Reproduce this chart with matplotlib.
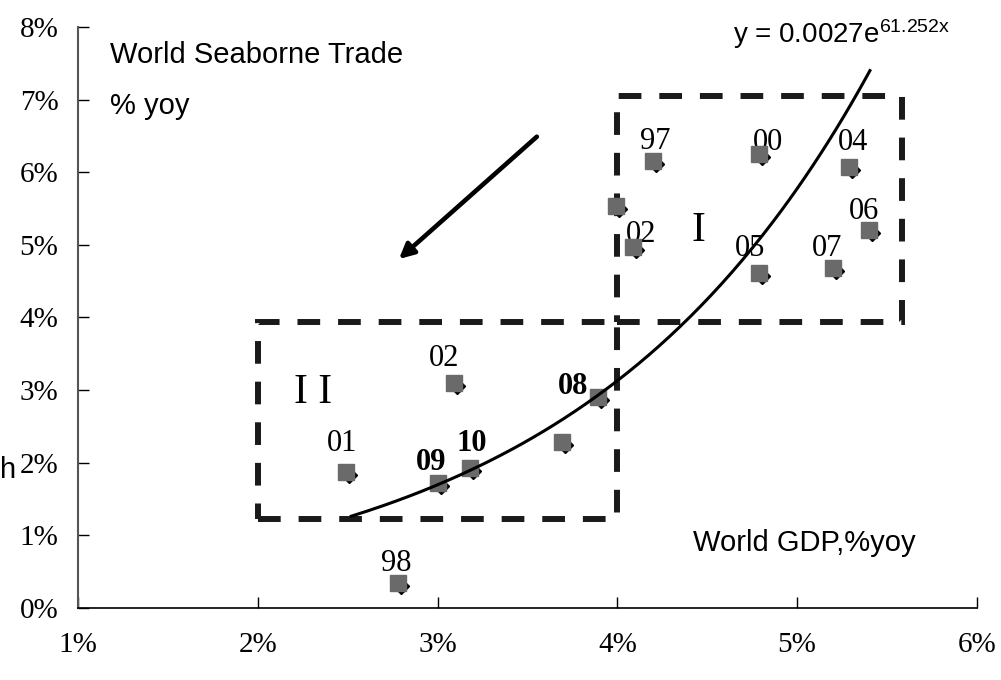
import matplotlib.pyplot as plt
import matplotlib.transforms as mtransforms
from matplotlib.patches import Rectangle
import numpy as np

plt.rcParams['mathtext.fontset'] = 'custom'
plt.rcParams['mathtext.rm'] = 'Liberation Sans'
plt.rcParams['mathtext.it'] = 'Liberation Sans'

# world GDP growth (x) vs world seaborne trade growth (y), % yoy
gdp = [4.20, 4.79, 5.29, 3.99, 4.09, 5.40, 4.79, 5.20,
       3.09, 3.89, 2.49, 3.00, 3.18, 3.69, 2.78]
trade = [6.16, 6.25, 6.07, 5.54, 4.97, 5.21, 4.61, 4.68,
         3.10, 2.91, 1.87, 1.72, 1.93, 2.29, 0.34]
years = ['97', '00', '04', '', '02', '06', '05', '07',
         '02', '08', '01', '09', '10', '', '98']
bold_years = ['08', '09', '10']
# label offsets in pixels (dx right, dy down)
label_offsets = [(2, -19), (9, -12), (4, -25), (0, 0), (8, -13), (-5, -18),
                 (-9, -25), (-6, -20), (-10, -24), (-24, -10), (-4, -29),
                 (-6, -21), (2, -24), (0, 0), (-2, -20)]

# exponential trendline shown on the chart: y = 0.0027 e^(61.252 x)
trend_a = 0.0027
trend_b = 61.252
trend_range = (2.52, 5.405)

xticks = [1, 2, 3, 4, 5, 6]
yticks = [0, 1, 2, 3, 4, 5, 6, 7, 8]

fig = plt.figure(figsize=(10.01, 6.8), dpi=100)
ax = fig.add_axes([0.0779, 0.1059, 0.898, 0.8544])
ax.set_xlim(1, 6)
ax.set_ylim(0, 8)

serif = 'Liberation Serif'
sans = 'Liberation Sans'

# markers: black diamond slightly offset under a grey square
off = mtransforms.ScaledTranslation(3 / 100, -3 / 100, fig.dpi_scale_trans)
ax.plot(gdp, trade, 'D', color='black', markersize=8, zorder=3,
        transform=ax.transData + off)
ax.plot(gdp, trade, 's', color='#6a6a6a', markersize=12, zorder=4)

for x, y, lab, (dx, dy) in zip(gdp, trade, years, label_offsets):
    if not lab:
        continue
    ax.annotate(lab, (x, y), xytext=(dx * 0.72, -dy * 0.72),
                textcoords='offset points', ha='center', va='center',
                fontsize=22, family=serif, zorder=2,
                fontweight='bold' if lab in bold_years else 'normal')

tx = np.linspace(trend_range[0], trend_range[1], 200)
ty = 100 * trend_a * np.exp(trend_b * tx / 100)
ax.plot(tx, ty, color='black', lw=2.2, zorder=5)

# dashed boxes I and II
for (x0, y0, x1, y1) in [(4.0, 3.94, 5.585, 7.05), (2.0, 1.23, 4.0, 3.94)]:
    ax.add_patch(Rectangle((x0, y0), x1 - x0, y1 - y0, fill=False,
                           edgecolor='#1a1a1a', lw=4.3,
                           linestyle=(0, (3.8, 3.0)), zorder=1))
ax.text(4.45, 5.2, 'I', fontsize=30, family=serif, ha='center', va='center')
ax.text(2.31, 2.96, 'I I', fontsize=30, family=serif, ha='center', va='center')

ax.annotate('', xy=(2.774, 4.78), xytext=(3.564, 6.515),
            arrowprops=dict(arrowstyle='-|>', lw=3.3, color='black',
                            mutation_scale=22))

for s in ['top', 'right']:
    ax.spines[s].set_visible(False)
ax.spines['left'].set_color('#555555')
ax.spines['left'].set_linewidth(1.5)
ax.spines['bottom'].set_linewidth(1.2)

ax.set_xticks(xticks)
ax.set_xticklabels([f'{v}%' for v in xticks])
ax.set_yticks(yticks)
ax.set_yticklabels([f'{v}%' for v in yticks])
ax.tick_params(direction='in', length=8, width=1)
ax.tick_params(axis='x', pad=17)
ax.tick_params(axis='y', pad=14)
for lab in ax.get_xticklabels() + ax.get_yticklabels():
    lab.set_fontfamily(serif)
    lab.set_fontsize(21)

fig.text(110 / 1001, 1 - 63 / 680, 'World Seaborne Trade', family=sans,
         fontsize=21, va='baseline')
fig.text(110 / 1001, 1 - 114 / 680, '% yoy', family=sans,
         fontsize=21, va='baseline')
fig.text(693 / 1001, 1 - 551 / 680, 'World GDP,%yoy', family=sans,
         fontsize=21, va='baseline')
fig.text(733 / 1001, 1 - 43 / 680, r'y = 0.0027e$^{\mathrm{61.252x}}$',
         family=sans, fontsize=20, va='baseline')
fig.text(0, 1 - 478 / 680, 'h', family=sans, fontsize=21,
         ha='left', va='baseline')

fig.savefig('out.png', dpi=100)
